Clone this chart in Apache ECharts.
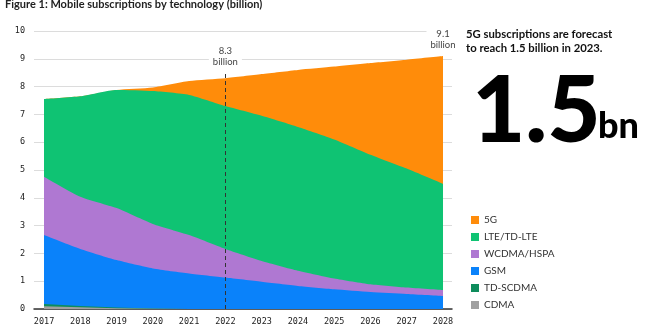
<!DOCTYPE html>
<html>
<head>
<meta charset="utf-8">
<script src="https://cdn.jsdelivr.net/npm/echarts@6/dist/echarts.min.js"></script>
<style>
html,body{margin:0;padding:0;background:#fff;}
#c{width:660px;height:330px;}
</style>
</head>
<body>
<div id="c"></div>
<script>
// ---- data ----
const years = [2017, 2018, 2019, 2020, 2021, 2022, 2023, 2024, 2025, 2026, 2027, 2028];
const cdma    = [0.10, 0.06, 0.03, 0.01, 0, 0, 0, 0, 0, 0, 0, 0];
const tdscdma = [0.08, 0.05, 0.02, 0.01, 0, 0, 0, 0, 0, 0, 0, 0];
const gsm     = [2.48, 2.05, 1.71, 1.44, 1.28, 1.13, 0.98, 0.83, 0.71, 0.61, 0.54, 0.47];
const wcdma   = [2.10, 1.88, 1.87, 1.60, 1.38, 1.03, 0.75, 0.55, 0.39, 0.28, 0.23, 0.21];
const lte     = [2.79, 3.61, 4.25, 4.78, 5.04, 5.14, 5.22, 5.17, 5.00, 4.66, 4.28, 3.82];
const fiveG   = [0, 0, 0, 0.13, 0.50, 1.00, 1.50, 2.05, 2.62, 3.30, 3.92, 4.60];
const annoYears  = [2022, 2028];
const annoTotals = [8.3, 9.1];
const dividerYear = 2022;
const dividerTop = 8.55;

// bottom to top
const seriesDefs = [
  {name: 'CDMA', data: cdma, color: '#A0A0A0'},
  {name: 'TD-SCDMA', data: tdscdma, color: '#0E8C5C'},
  {name: 'GSM', data: gsm, color: '#0A82FA'},
  {name: 'WCDMA/HSPA', data: wcdma, color: '#AF78D2'},
  {name: 'LTE/TD-LTE', data: lte, color: '#0FC373'},
  {name: '5G', data: fiveG, color: '#FF8C0A'}
];

const chart = echarts.init(document.getElementById('c'), null, {renderer: 'canvas'});

// cumulative stacking (value x-axis), drawn top layer first
const running = years.map(() => 0);
const stacked = seriesDefs.map((s, k) => {
  const vals = s.data.map((v, i) => (running[i] = +(running[i] + v).toFixed(4)));
  return {
    name: s.name,
    type: 'line',
    symbol: 'none',
    smooth: k >= 2 ? 0.2 : false,
    lineStyle: {width: 0},
    areaStyle: {color: s.color, opacity: 1, origin: 'start'},
    itemStyle: {color: s.color},
    data: years.map((y, i) => [y, vals[i]])
  };
});
const seriesList = stacked.slice().reverse();

const lastSeries = seriesList[seriesList.length - 1];
lastSeries.markLine = {
  silent: true,
  symbol: 'none',
  z: 10,
  label: {show: false},
  lineStyle: {color: '#333', width: 1, type: [4, 3]},
  data: [[{coord: [dividerYear, 0]}, {coord: [dividerYear, dividerTop]}]]
};
lastSeries.markPoint = {
  silent: true,
  symbol: 'circle',
  symbolSize: 1,
  z: 10,
  itemStyle: {color: 'rgba(0,0,0,0)'},
  label: {
    show: true,
    position: 'top',
    formatter: (p) => p.value + '\nbillion',
    fontFamily: 'Lato',
    fontSize: 9.5,
    lineHeight: 11,
    color: '#444',
    backgroundColor: '#fff',
    padding: [1, 4, 0, 4]
  },
  data: annoYears.map((y, i) => ({
    coord: [y, annoTotals[i]],
    value: annoTotals[i],
    label: {distance: i === 0 ? 10 : 5}
  }))
};

const option = {
  animation: false,
  backgroundColor: '#fff',
  textStyle: {fontFamily: 'Lato'},
  title: {
    text: 'Figure 1: Mobile subscriptions by technology (billion)',
    left: 0, top: -6,
    textStyle: {fontFamily: 'Lato', fontWeight: 'bold', fontSize: 11, color: '#222'}
  },
  grid: {left: 34, right: 208, top: 31, bottom: 21},
  xAxis: {
    type: 'value',
    min: 2016.724,
    max: 2028.248,
    splitLine: {show: false},
    axisLine: {show: true, lineStyle: {color: '#333', width: 1.5}},
    axisTick: {show: false},
    axisLabel: {
      customValues: years,
      formatter: (v) => String(v),
      fontFamily: 'DejaVu Sans Mono',
      fontSize: 8.5,
      color: '#222',
      margin: 8
    }
  },
  yAxis: {
    type: 'value',
    min: 0, max: 10, interval: 1,
    axisLine: {show: false},
    axisTick: {show: false},
    splitLine: {lineStyle: {color: '#dcdcdc', width: 1}},
    axisLabel: {
      fontFamily: 'DejaVu Sans Mono',
      fontSize: 8.5,
      color: '#222',
      margin: 9
    }
  },
  legend: {
    orient: 'vertical',
    left: 466, top: 209,
    itemWidth: 8, itemHeight: 8,
    itemGap: 5,
    icon: 'rect',
    data: ['5G', 'LTE/TD-LTE', 'WCDMA/HSPA', 'GSM', 'TD-SCDMA', 'CDMA'],
    textStyle: {fontFamily: 'Lato', fontSize: 10, color: '#333', lineHeight: 12}
  },
  graphic: [
    {type: 'text', left: 466, top: 27,
     style: {text: '5G subscriptions are forecast\nto reach 1.5 billion in 2023.', font: 'bold 11.3px Lato', lineHeight: 14, fill: '#111'}},
    {type: 'text', x: 472, y: 66,
     style: {text: '1.5', font: '900 92px Lato', fill: '#000', verticalAlign: 'top'}},
    {type: 'text', x: 598, y: 108,
     style: {text: 'bn', font: '900 36px Lato', fill: '#000', verticalAlign: 'top'}}
  ],
  series: seriesList
};
chart.setOption(option);
</script>
</body>
</html>
